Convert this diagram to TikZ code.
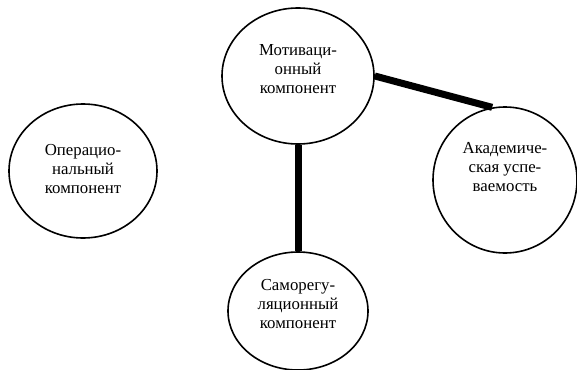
\documentclass[tikz,border=0pt]{standalone}
\usepackage{fontspec}
\setmainfont{Liberation Serif}
\usetikzlibrary{shapes.geometric}
\begin{document}
\begin{tikzpicture}[x=1pt,y=-1pt,
  comp/.style={draw,ellipse,line width=1.6pt,inner sep=0pt},
  lbl/.style={align=center,font=\fontsize{16.8}{19}\selectfont},
  link/.style={line width=7pt}]
\useasboundingbox (0,0) rectangle (577,369);
\node[comp,minimum width=148pt,minimum height=134pt] (oper) at (83,171) {};
\node[comp,minimum width=152pt,minimum height=136pt] (motiv) at (298,76) {};
\node[comp,minimum width=144pt,minimum height=146pt] (acad) at (505,180) {};
\node[comp,minimum width=140pt,minimum height=118pt] (self) at (298,311) {};
\node[lbl] (toper) at (83,169) {Операцио-\\нальный\\компонент};
\node[lbl] (tmotiv) at (298,69) {Мотиваци-\\онный\\компонент};
\node[lbl] (tacad) at (505,167) {Академиче-\\ская успе-\\ваемость};
\node[lbl] (tself) at (298,304) {Саморегу-\\ляционный\\компонент};
\draw[link] (motiv.south) -- (self.north);
\draw[link] (motiv.east) -- (acad.100);
\end{tikzpicture}
\end{document}
